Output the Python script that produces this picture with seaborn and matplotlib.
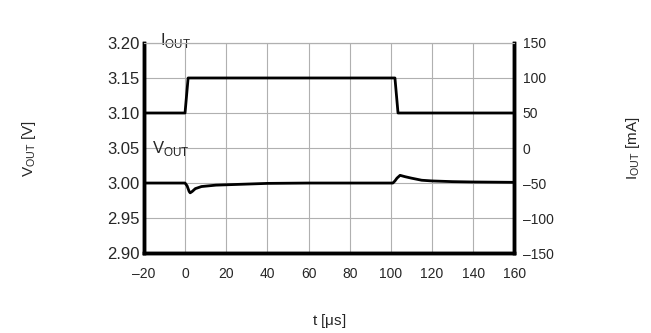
import matplotlib
matplotlib.use("Agg")
import matplotlib.pyplot as plt
import pandas as pd
import seaborn as sns

# I_OUT step (mA)
t_i = [-20, 0, 1.5, 102, 103.5, 160]
i_out = [50, 50, 100, 100, 50, 50]

# V_OUT response (V)
t_v = [-20, 0, 1, 2, 2.5, 3.5, 5, 8, 15, 25, 40, 60, 80, 100, 101, 102,
       103, 104.5, 107, 110, 115, 120, 130, 140, 160]
v_out = [3.0, 3.0, 2.996, 2.988, 2.986, 2.988, 2.992, 2.995, 2.997, 2.998,
         2.9995, 3.0, 3.0, 3.0, 3.0, 3.003, 3.007, 3.011, 3.009, 3.007,
         3.004, 3.003, 3.002, 3.0015, 3.001]

x_ticks = list(range(-20, 161, 20))
v_ticks = [2.90, 2.95, 3.00, 3.05, 3.10, 3.15, 3.20]
i_ticks = [-150, -100, -50, 0, 50, 100, 150]

sns.set_style("white")
plt.rcParams["font.family"] = ["Liberation Sans", "DejaVu Sans"]
plt.rcParams["mathtext.fontset"] = "custom"
plt.rcParams["mathtext.rm"] = "Liberation Sans"

fig = plt.figure(figsize=(6.51, 3.33), dpi=100)
ax = fig.add_axes([0.221, 0.240, 0.569, 0.631])
ax2 = ax.twinx()

dv = pd.DataFrame({"t": t_v, "v": v_out})
di = pd.DataFrame({"t": t_i, "i": i_out})
sns.lineplot(data=dv, x="t", y="v", ax=ax, color="black", lw=2.0,
             estimator=None, sort=False)
sns.lineplot(data=di, x="t", y="i", ax=ax2, color="black", lw=2.0,
             estimator=None, sort=False)

ax.set_xlim(-20, 160)
ax.set_ylim(2.90, 3.20)
ax2.set_ylim(-150, 150)
ax.set_xticks(x_ticks)
ax.set_xticklabels([str(x).replace("-", "\u2013") for x in x_ticks], fontsize=10)
ax.set_yticks(v_ticks)
ax.set_yticklabels([f"{v:.2f}" for v in v_ticks], fontsize=12)
ax2.set_yticks(i_ticks)
ax2.set_yticklabels([str(v).replace("-", "\u2013") for v in i_ticks], fontsize=10)
ax.grid(True, color="#b0b0b0", lw=0.8)
ax.tick_params(axis="y", length=0, pad=3)
ax.tick_params(axis="x", length=0, pad=10)
ax2.tick_params(length=0, pad=6)

for a in (ax, ax2):
    for side in ("left", "bottom", "right"):
        a.spines[side].set_linewidth(2.5)
        a.spines[side].set_color("black")
    a.spines["top"].set_linewidth(0.8)
    a.spines["top"].set_color("#b0b0b0")

ax.set_xlabel(r"t [$\mathregular{\mu}$s]", fontsize=11, labelpad=22)
ax.set_ylabel(r"V$_{\mathregular{OUT}}$ [V]", fontsize=11, labelpad=50)
ax2.set_ylabel(r"I$_{\mathregular{OUT}}$ [mA]", fontsize=11, rotation=90,
               labelpad=51)

ax.text(-12, 3.190, r"I$_{\mathregular{OUT}}$", fontsize=12, va="bottom")
ax.text(-16, 3.036, r"V$_{\mathregular{OUT}}$", fontsize=12, va="bottom")

fig.savefig("out.png", dpi=100)
